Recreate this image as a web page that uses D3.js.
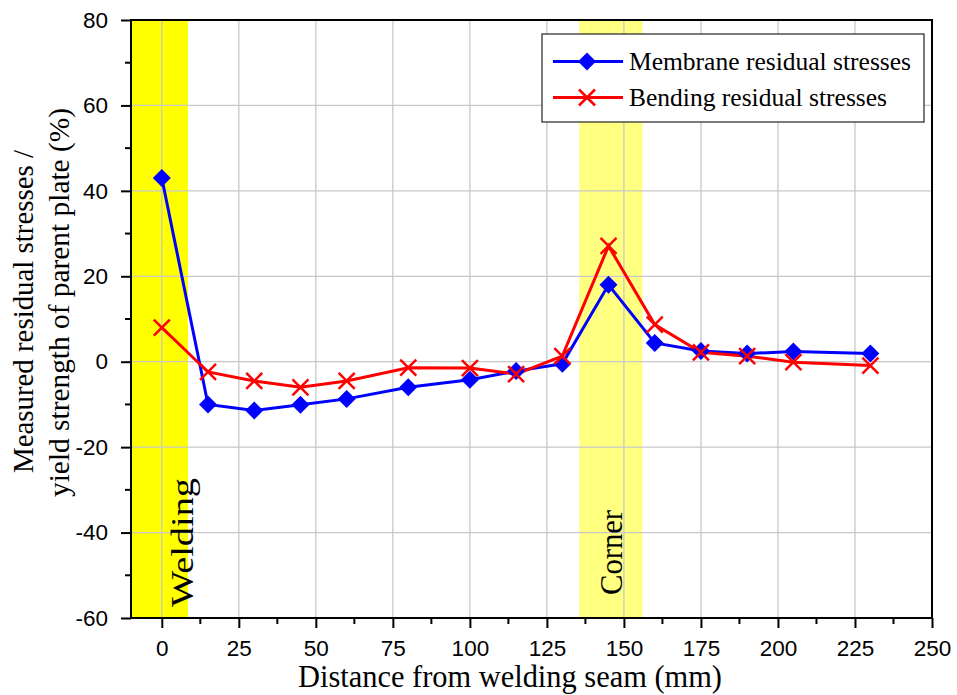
<!DOCTYPE html>
<html><head><meta charset="utf-8">
<script src="https://cdn.jsdelivr.net/npm/d3@7"></script>
<style>body{margin:0;background:#fff}svg{display:block}</style>
</head><body><svg id="c" width="957" height="695"></svg>
<script>
const distances = [0, 15, 30, 45, 60, 80, 100, 115, 130, 145, 160, 175, 190, 205, 230];
const membrane = [43, -10, -11.4, -10.1, -8.7, -6, -4.2, -2.2, -0.5, 18, 4.4, 2.5, 1.9, 2.4, 1.9];
const bending = [8, -2.4, -4.5, -6, -4.5, -1.4, -1.5, -2.9, 1.3, 27.1, 8.7, 2.2, 1.3, -0.1, -0.9];
const xTicks = [0, 25, 50, 75, 100, 125, 150, 175, 200, 225, 250];
const yTicks = [-60, -40, -20, 0, 20, 40, 60, 80];
const seriesNames = ["Membrane residual stresses", "Bending residual stresses"];
const bands = [{from: -10, to: 8.5, label: "Welding"}, {from: 135.5, to: 156, label: "Corner"}];

const svg = d3.select("#c");
const L = 131, R = 932, T = 20, B = 618;
const x = d3.scaleLinear().domain([-10, 250]).range([L, R]);
const y = d3.scaleLinear().domain([-60, 80]).range([B, T]);
const serif = "Liberation Serif, Times New Roman, serif";
const sans = "Liberation Sans, Arial, sans-serif";

// bands
const bandColors = ["#ffff00", "#ffff80"];
bands.forEach((b, i) => {
  svg.append("rect").attr("x", x(b.from)).attr("y", T).attr("width", x(b.to) - x(b.from)).attr("height", B - T).attr("fill", bandColors[i]);
});

// grid
svg.append("g").selectAll("line").data(xTicks.slice(0, -1)).join("line")
  .attr("x1", d => x(d)).attr("x2", d => x(d)).attr("y1", T).attr("y2", B)
  .attr("stroke", "#c8c8c8").attr("stroke-width", 1.3);
svg.append("g").selectAll("line").data(yTicks.slice(1, -1)).join("line")
  .attr("x1", L).attr("x2", R).attr("y1", d => y(d)).attr("y2", d => y(d))
  .attr("stroke", "#c8c8c8").attr("stroke-width", 1.3);

// band labels
const bandLabelPos = [{bx: 192.5, sy: 607, len: 129}, {bx: 621.5, sy: 595, len: 85}];
bands.forEach((b, i) => {
  const p = bandLabelPos[i];
  svg.append("text").attr("transform", `translate(${p.bx},${p.sy}) rotate(-90)`)
    .attr("text-anchor", "start").attr("font-family", serif).attr("font-size", 31)
    .attr("textLength", p.len).attr("lengthAdjust", "spacingAndGlyphs")
    .text(b.label);
});

// axes
const fmt = d => String(d);
const xAxis = d3.axisBottom(x).tickValues(xTicks).tickSize(10).tickPadding(12).tickFormat(fmt);
const gx = svg.append("g").attr("transform", `translate(0,${B})`).call(xAxis);
const yAxis = d3.axisLeft(y).tickValues(yTicks).tickSize(10).tickPadding(13).tickFormat(fmt);
const gy = svg.append("g").attr("transform", `translate(${L},0)`).call(yAxis);
[gx, gy].forEach(g => {
  g.select(".domain").remove();
  g.selectAll(".tick line").attr("stroke", "#000").attr("stroke-width", 2);
  g.selectAll("text").attr("font-family", sans).attr("font-size", 22.5).attr("fill", "#000");
});
// minor ticks
const xMinor = d3.range(12.5, 250, 25);
svg.append("g").selectAll("line").data(xMinor).join("line")
  .attr("x1", d => x(d)).attr("x2", d => x(d)).attr("y1", B).attr("y2", B + 6)
  .attr("stroke", "#000").attr("stroke-width", 2);
const yMinor = d3.range(-50, 80, 20);
svg.append("g").selectAll("line").data(yMinor).join("line")
  .attr("x1", L - 6).attr("x2", L).attr("y1", d => y(d)).attr("y2", d => y(d))
  .attr("stroke", "#000").attr("stroke-width", 2);

// frame
svg.append("rect").attr("x", L).attr("y", T).attr("width", R - L).attr("height", B - T)
  .attr("fill", "none").attr("stroke", "#000").attr("stroke-width", 2);

// axis titles
svg.append("text").attr("x", 298).attr("y", 687).attr("text-anchor", "start")
  .attr("font-family", serif).attr("font-size", 31).attr("textLength", 424).attr("lengthAdjust", "spacingAndGlyphs")
  .text("Distance from welding seam (mm)");
svg.append("text").attr("transform", "translate(32.5,473) rotate(-90)")
  .attr("font-family", serif).attr("font-size", 30).attr("textLength", 323).attr("lengthAdjust", "spacingAndGlyphs")
  .text("Measured residual stresses /");
svg.append("text").attr("transform", "translate(69,497) rotate(-90)")
  .attr("font-family", serif).attr("font-size", 30).attr("textLength", 389).attr("lengthAdjust", "spacingAndGlyphs")
  .text("yield strength of parent plate (%)");

// lines
const line = d3.line().x((d, i) => x(distances[i])).y(d => y(d));
const colors = ["#0000ff", "#ff0000"];
[membrane, bending].forEach((s, k) => {
  svg.append("path").datum(s).attr("d", line).attr("fill", "none").attr("stroke", colors[k]).attr("stroke-width", 3);
});
function diamond(g, cx, cy) {
  g.append("path").attr("d", `M${cx},${cy - 9}L${cx + 9},${cy}L${cx},${cy + 9}L${cx - 9},${cy}Z`).attr("fill", "#0000ff");
}
function cross(g, cx, cy) {
  g.append("path").attr("d", `M${cx - 8},${cy - 8}L${cx + 8},${cy + 8}M${cx - 8},${cy + 8}L${cx + 8},${cy - 8}`)
    .attr("stroke", "#ff0000").attr("stroke-width", 2.5).attr("fill", "none");
}
const gm = svg.append("g");
membrane.forEach((v, i) => diamond(gm, x(distances[i]), y(v)));
const gb = svg.append("g");
bending.forEach((v, i) => cross(gb, x(distances[i]), y(v)));

// legend
const lg = svg.append("g");
lg.append("rect").attr("x", 542).attr("y", 34).attr("width", 382).attr("height", 88)
  .attr("fill", "#fff").attr("stroke", "#333").attr("stroke-width", 1.3);
const legendLens = [282, 258];
[61.5, 97.5].forEach((ly, k) => {
  lg.append("line").attr("x1", 553).attr("x2", 623).attr("y1", ly).attr("y2", ly).attr("stroke", colors[k]).attr("stroke-width", 3);
  if (k === 0) diamond(lg, 587, ly); else cross(lg, 587, ly);
  lg.append("text").attr("x", 629).attr("y", ly + 8.5)
    .attr("font-family", serif).attr("font-size", 25)
    .attr("textLength", legendLens[k]).attr("lengthAdjust", "spacingAndGlyphs").text(seriesNames[k]);
});
</script></body></html>
